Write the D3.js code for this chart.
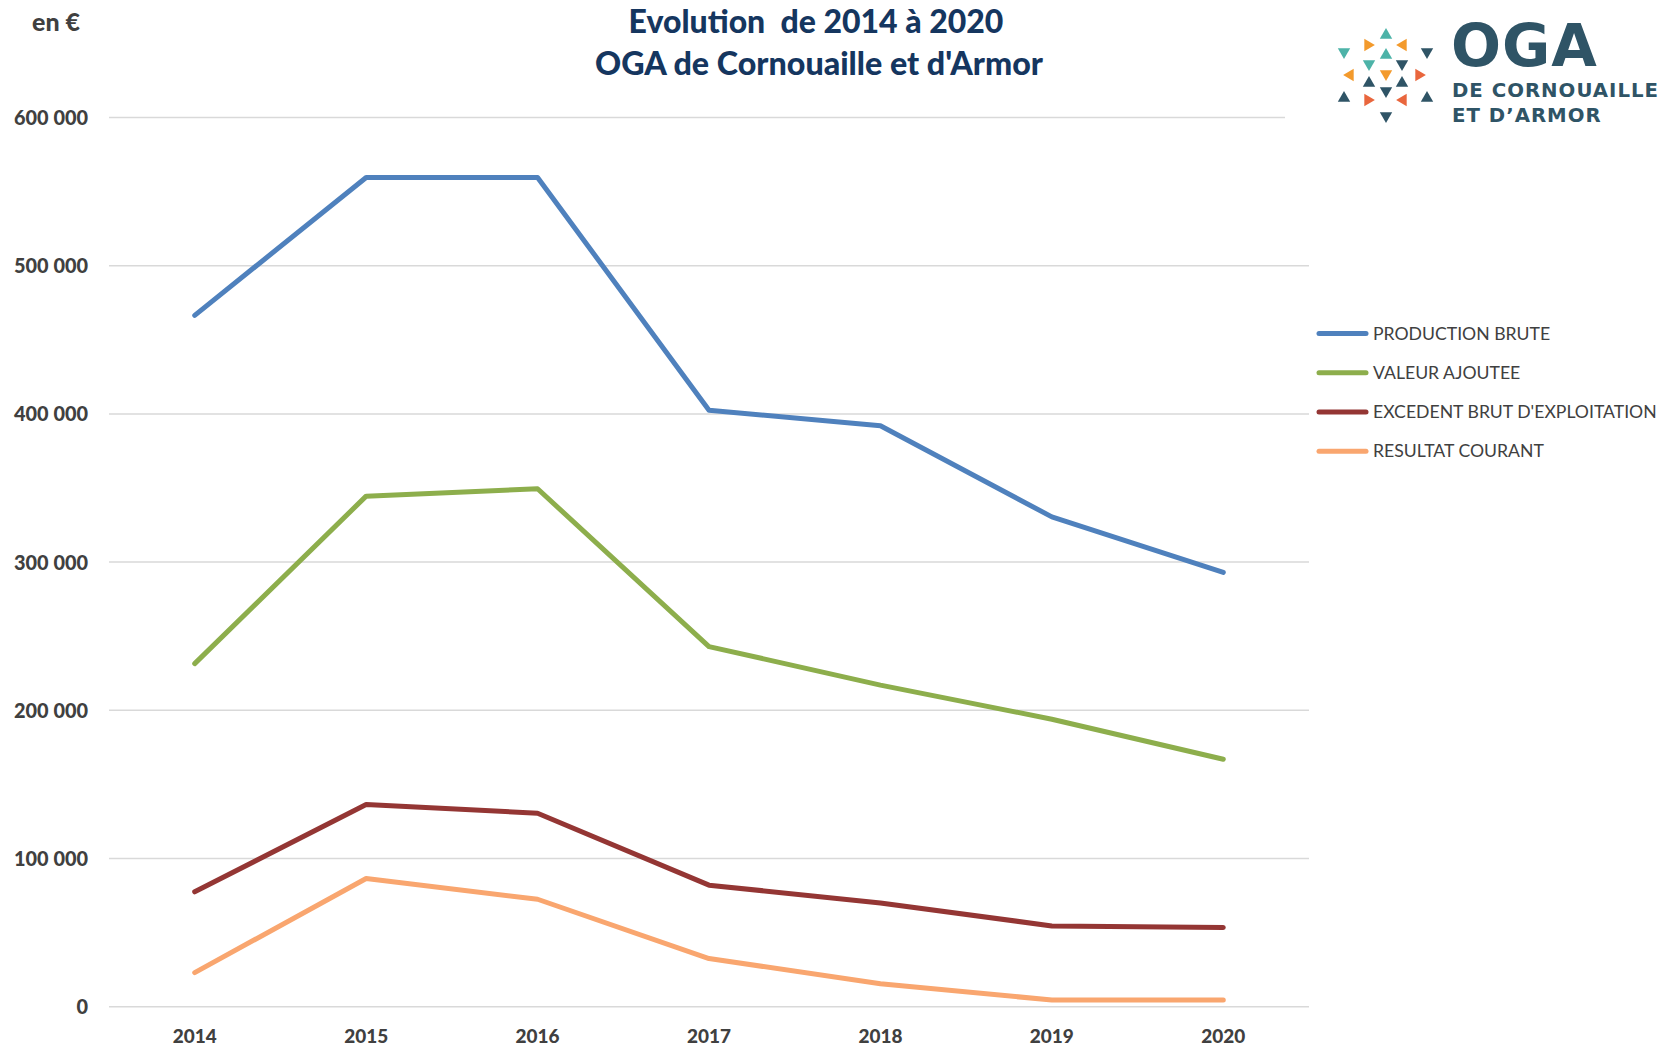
<!DOCTYPE html>
<html><head><meta charset="utf-8">
<script src="https://cdn.jsdelivr.net/npm/d3@7"></script>
<style>html,body{margin:0;padding:0;background:#fff;} svg{display:block;}</style>
</head><body>
<svg id="chart" width="1665" height="1049"></svg>
<script>
const years = ["2014","2015","2016","2017","2018","2019","2020"];
const productionBrute = [466500, 559500, 559500, 402500, 392000, 330500, 293000];
const valeurAjoutee   = [231500, 344500, 349500, 243000, 217000, 194000, 167000];
const excedentBrut    = [77500, 136500, 130500, 82000, 70000, 54500, 53500];
const resultatCourant = [23000, 86500, 72500, 32500, 15500, 4500, 4500];
const seriesNames = ["PRODUCTION BRUTE","VALEUR AJOUTEE","EXCEDENT BRUT D'EXPLOITATION","RESULTAT COURANT"];
const seriesColors = ["#4F81BD","#8DAE4C","#943634","#F9A66F"];
const yTicks = [0,100000,200000,300000,400000,500000,600000];

const series = [productionBrute, valeurAjoutee, excedentBrut, resultatCourant];
const svg = d3.select("#chart");
const FONT = "Lato, 'Open Sans', sans-serif";

const x = d3.scaleBand().domain(years).range([109, 1309]);
const y = d3.scaleLinear().domain([0, 600000]).range([1006.7, 117.5]);
const fmt = v => d3.format(",")(v).replace(/,/g, " ");

function fit(sel, target) {
  const w = sel.node().getComputedTextLength();
  const fs = parseFloat(sel.attr("font-size"));
  sel.attr("font-size", fs * target / w);
}

// gridlines
const grid = svg.append("g");
grid.selectAll("line").data(yTicks).join("line")
  .attr("x1", 109).attr("x2", 1309)
  .attr("y1", d => y(d)).attr("y2", d => y(d))
  .attr("stroke", "#D9D9D9").attr("stroke-width", 1.5);

// y axis labels via d3 axis
const yAxis = svg.append("g").attr("transform", "translate(88,0)")
  .call(d3.axisLeft(y).tickValues(yTicks).tickSize(0).tickPadding(0).tickFormat(fmt));
yAxis.select(".domain").remove();
yAxis.selectAll("text").attr("font-family", FONT).attr("font-weight", 900)
  .attr("fill", "#404040").attr("font-size", 20).attr("dy", "0.35em");
const refW = yAxis.selectAll("text").filter(d => d === 600000).node().getComputedTextLength();
yAxis.selectAll("text").attr("font-size", 20 * 74 / refW);

// x axis labels
const xAxis = svg.append("g").attr("transform", "translate(0,1036)")
  .call(d3.axisBottom(x).tickSize(0).tickPadding(0));
xAxis.select(".domain").remove();
xAxis.selectAll("text").attr("font-family", FONT).attr("font-weight", 900)
  .attr("fill", "#404040").attr("font-size", 20).attr("dy", "0.35em");
const refX = xAxis.select("text").node().getComputedTextLength();
xAxis.selectAll("text").attr("font-size", 20 * 44 / refX);

// lines
const line = d3.line().x((d, i) => x(years[i]) + x.bandwidth() / 2).y(d => y(d));
svg.append("g").selectAll("path").data(series).join("path")
  .attr("d", d => line(d)).attr("fill", "none")
  .attr("stroke", (d, i) => seriesColors[i]).attr("stroke-width", 5)
  .attr("stroke-linejoin", "round").attr("stroke-linecap", "round");

// "en €"
const en = svg.append("text").text("en €").attr("x", 32).attr("y", 31)
  .attr("font-family", FONT).attr("font-weight", 900).attr("fill", "#404040").attr("font-size", 22);
fit(en, 48);

// title
const t1 = svg.append("text").text("Evolution  de 2014 à 2020").attr("x", 816).attr("y", 33)
  .attr("text-anchor", "middle").attr("xml:space", "preserve")
  .attr("font-family", FONT).attr("font-weight", 900).attr("fill", "#15365F").attr("font-size", 32);
fit(t1, 375);
const t2 = svg.append("text").text("OGA de Cornouaille et d'Armor").attr("x", 819).attr("y", 75)
  .attr("text-anchor", "middle")
  .attr("font-family", FONT).attr("font-weight", 900).attr("fill", "#15365F").attr("font-size", 32);
fit(t2, 448);

// legend
const legRows = [333.4, 372.7, 412, 451.3];
const leg = svg.append("g");
const items = leg.selectAll("g").data(seriesNames).join("g")
  .attr("transform", (d, i) => `translate(0,${legRows[i]})`);
items.append("line").attr("x1", 1319).attr("x2", 1366).attr("y1", 0).attr("y2", 0)
  .attr("stroke", (d, i) => seriesColors[i]).attr("stroke-width", 5).attr("stroke-linecap", "round");
const legTexts = items.append("text").text(d => d).attr("x", 1373).attr("y", 0).attr("dy", "0.35em")
  .attr("font-family", FONT).attr("fill", "#404040").attr("font-size", 19);
const lw = legTexts.filter((d, i) => i === 2).node().getComputedTextLength();
legTexts.attr("font-size", 19 * 284 / lw);

// logo
const logo = svg.append("g");
logo.append("rect").attr("x", 1285).attr("y", 0).attr("width", 380).attr("height", 128).attr("fill", "#fff");
const DK = "#2F5466", TE = "#4DB3A8", OR = "#F39A2C", RO = "#E9663D";
// triangles: cx, cy, direction, color
const tris = [
  [1386,34,"u",TE],[1369,45,"r",OR],[1402,45,"l",OR],[1344,53,"d",TE],[1386,54,"u",TE],[1427,53,"d",DK],
  [1369,65,"d",TE],[1402,65,"d",DK],[1349,75,"l",OR],[1386,75,"d",OR],[1420,75,"r",RO],
  [1369,82,"u",DK],[1402,82,"u",DK],[1344,97,"u",DK],[1386,92,"d",DK],[1427,97,"u",DK],
  [1369,100,"r",RO],[1402,100,"l",RO],[1386,117,"d",DK]
];
const s = 6.2;
function triPath(cx, cy, dir) {
  const h = s * 0.95;
  if (dir === "u") return `M${cx},${cy-h} L${cx+s},${cy+h*0.8} L${cx-s},${cy+h*0.8}Z`;
  if (dir === "d") return `M${cx},${cy+h} L${cx+s},${cy-h*0.8} L${cx-s},${cy-h*0.8}Z`;
  if (dir === "r") return `M${cx+h},${cy} L${cx-h*0.8},${cy-s} L${cx-h*0.8},${cy+s}Z`;
  return `M${cx-h},${cy} L${cx+h*0.8},${cy-s} L${cx+h*0.8},${cy+s}Z`;
}
logo.selectAll("path").data(tris).join("path").attr("d", d => triPath(d[0], d[1], d[2])).attr("fill", d => d[3]);
const oga = logo.append("text").text("OGA").attr("x", 1451).attr("y", 66)
  .attr("font-family", "'DejaVu Sans', sans-serif").attr("font-weight", "bold")
  .attr("fill", DK).attr("font-size", 44).attr("letter-spacing", 1);
fit(oga, 148);
const l1 = logo.append("text").text("DE CORNOUAILLE").attr("x", 1452).attr("y", 97)
  .attr("font-family", "'DejaVu Sans', sans-serif").attr("font-weight", "bold")
  .attr("fill", DK).attr("font-size", 20).attr("letter-spacing", 1);
fit(l1, 207);
const l2 = logo.append("text").text("ET D’ARMOR").attr("x", 1452).attr("y", 122)
  .attr("font-family", "'DejaVu Sans', sans-serif").attr("font-weight", "bold")
  .attr("fill", DK).attr("font-size", l1.attr("font-size")).attr("letter-spacing", 1);
</script>
</body></html>
